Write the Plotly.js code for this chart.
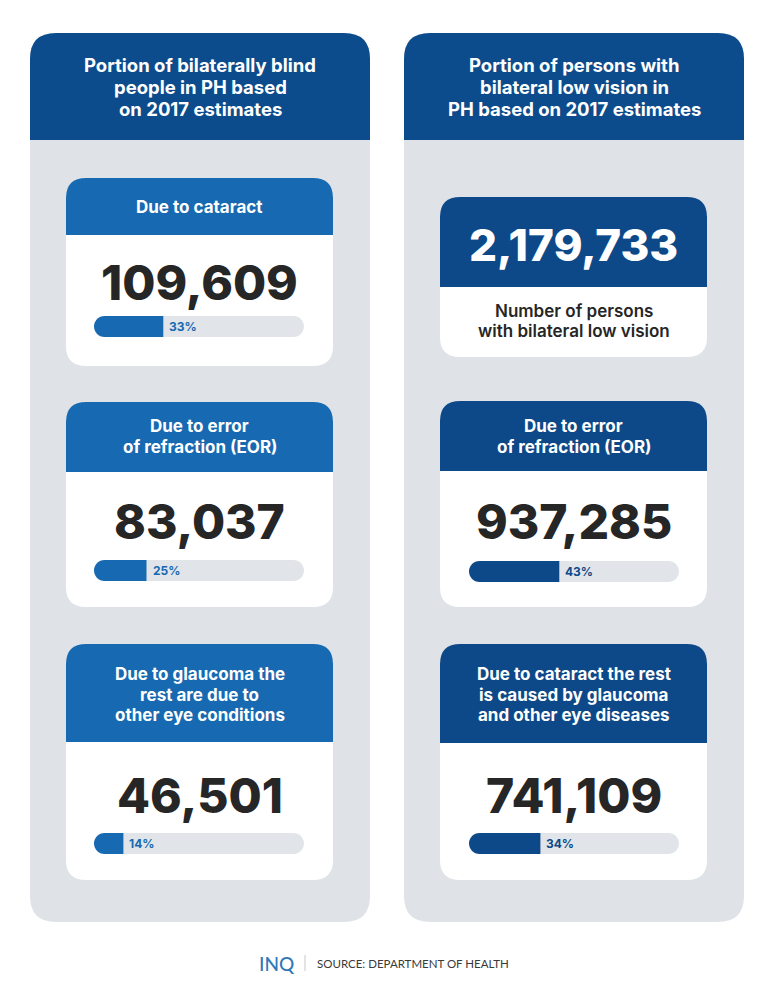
<!DOCTYPE html>
<html><head><meta charset="utf-8">
<script src="https://cdn.plot.ly/plotly-3.0.1.min.js"></script>
<style>html,body{margin:0;padding:0;background:#fff;}#chart{width:768px;height:997px;}</style>
</head><body><div id="chart"></div>
<script>
// ---- data ----
const leftTitle = ["Portion of bilaterally blind", "people in PH based", "on 2017 estimates"];
const rightTitle = ["Portion of persons with", "bilateral low vision in", "PH based on 2017 estimates"];
const leftLabels = [["Due to cataract"], ["Due to error", "of refraction (EOR)"], ["Due to glaucoma the", "rest are due to", "other eye conditions"]];
const leftValues = [109609, 83037, 46501];
const leftPct = [33, 25, 14];
const rightTotalLabel = ["Number of persons", "with bilateral low vision"];
const rightTotal = 2179733;
const rightLabels = [["Due to error", "of refraction (EOR)"], ["Due to cataract the rest", "is caused by glaucoma", "and other eye diseases"]];
const rightValues = [937285, 741109];
const rightPct = [43, 34];
const sourceText = "SOURCE: DEPARTMENT OF HEALTH";

// ---- styling ----
const W = 768, H = 997;
const C = {panel:'#dfe3e8', panelHead:'#0c4c8c', leftHead:'#1769b1', rightHead:'#0d4988', track:'#e1e5ea', num:'#262626'};
const FONT = 'Inter, "Noto Sans", sans-serif';
const px = x => x / W, py = y => 1 - y / H;
const fmt = v => v.toLocaleString('en-US');

function rrect(x0, y0, x1, y1, r, topOnly) {
  const rx = r / W, ry = r / H;
  const X0 = px(x0), X1 = px(x1), Y0 = py(y0), Y1 = py(y1);
  let p = `M${X0},${Y0 - ry} Q${X0},${Y0} ${X0 + rx},${Y0} L${X1 - rx},${Y0} Q${X1},${Y0} ${X1},${Y0 - ry}`;
  if (topOnly) p += ` L${X1},${Y1} L${X0},${Y1} Z`;
  else p += ` L${X1},${Y1 + ry} Q${X1},${Y1} ${X1 - rx},${Y1} L${X0 + rx},${Y1} Q${X0},${Y1} ${X0},${Y1 + ry} Z`;
  return p;
}
const shapes = [];
function addPath(path, color, layer) {
  shapes.push({type:'path', xref:'paper', yref:'paper', path, fillcolor:color, line:{width:0}, layer:layer || 'below'});
}
const annotations = [];
function addLines(lines, x, yFirst, spacing, size, color, weight) {
  lines.forEach((t, k) => annotations.push({text:t, xref:'paper', yref:'paper', x:px(x), y:py(yFirst + k * spacing),
    xanchor:'center', yanchor:'middle', showarrow:false, font:{size, color, weight, family:FONT}}));
}
// white masks that round off the ends of a bar (pixel geometry of the card)
function capMask(xEdge, yt, yb, dir) {
  const r = (yb - yt) / 2, k = 0.5523 * r;
  const xi = xEdge + dir * r;
  const P = (x, y) => `${px(x)},${py(y)}`;
  addPath(`M${P(xEdge, yt)} L${P(xi, yt)} C${P(xi - dir * k, yt)} ${P(xEdge, yt + r - k)} ${P(xEdge, yt + r)} Z`, '#fff', 'above');
  addPath(`M${P(xEdge, yb)} L${P(xi, yb)} C${P(xi - dir * k, yb)} ${P(xEdge, yb - r + k)} ${P(xEdge, yb - r)} Z`, '#fff', 'above');
}

// panels
[[30, 370], [404, 744]].forEach(([a, b]) => {
  addPath(rrect(a, 33, b, 922, 26, false), C.panel);
  addPath(rrect(a, 33, b, 140, 26, true), C.panelHead);
});
addLines(leftTitle, 200, 65, 22, 18.5, '#fff', 700);
addLines(rightTitle, 574, 65, 22, 18.5, '#fff', 700);

// card geometry
const leftCards = [[178, 235, 366], [402, 472, 607], [644, 742, 880]];
const leftHeadY = [207, 426, 674];
const leftNumY = [282, 521, 795];
const leftBarY = [[316, 337], [560, 581], [833, 854]];
const rightCards = [[401, 471, 607], [644, 743, 880]];
const rightHeadY = [426, 674];
const rightNumY = [521, 795];
const rightBarY = [[561, 582], [833, 854]];

leftCards.forEach(([t, h, b], i) => {
  addPath(rrect(66, t, 333, b, 20, false), '#fff');
  addPath(rrect(66, t, 333, h, 20, true), C.leftHead);
  addLines(leftLabels[i], 199.5, leftHeadY[i], 20.5, 17, '#fff', 700);
  addLines([fmt(leftValues[i])], 199.5, leftNumY[i], 0, 48, C.num, 800);
});
addPath(rrect(440, 197, 707, 357, 20, false), '#fff');
addPath(rrect(440, 197, 707, 287, 20, true), C.rightHead);
addLines([fmt(rightTotal)], 573.5, 245, 0, 44, '#fff', 800);
addLines(rightTotalLabel, 573.5, 311, 19.5, 17, C.num, 600);
rightCards.forEach(([t, h, b], i) => {
  addPath(rrect(440, t, 707, b, 20, false), '#fff');
  addPath(rrect(440, t, 707, h, 20, true), C.rightHead);
  addLines(rightLabels[i], 573.5, rightHeadY[i], 20.5, 17, '#fff', 700);
  addLines([fmt(rightValues[i])], 573.5, rightNumY[i], 0, 48, C.num, 800);
});

// progress bars: one small subplot per bar
const bars = [];
leftPct.forEach((p, i) => bars.push({pct:p, x:[94, 304], y:leftBarY[i], color:C.leftHead}));
rightPct.forEach((p, i) => bars.push({pct:p, x:[469, 679], y:rightBarY[i], color:C.rightHead}));

const traces = [];
const layout = {
  width:W, height:H, margin:{l:0, r:0, t:0, b:0}, paper_bgcolor:'#fff', plot_bgcolor:'rgba(0,0,0,0)',
  showlegend:false, barmode:'overlay', shapes, annotations, hovermode:false
};
bars.forEach((b, i) => {
  const n = i === 0 ? '' : String(i + 1);
  const xa = 'x' + n, ya = 'y' + n;
  layout['xaxis' + n] = {domain:[px(b.x[0]), px(b.x[1])], range:[0, 100], visible:false, fixedrange:true, anchor:ya};
  layout['yaxis' + n] = {domain:[py(b.y[1]), py(b.y[0])], range:[-0.5, 0.5], visible:false, fixedrange:true, anchor:xa};
  const common = {type:'bar', orientation:'h', y:[0], width:1, xaxis:xa, yaxis:ya, hoverinfo:'skip', marker:{line:{width:0}}};
  traces.push(Object.assign({}, common, {x:[100], marker:{color:C.track, line:{width:0}}}));
  traces.push(Object.assign({}, common, {x:[b.pct], marker:{color:b.color, line:{width:0}}}));
  capMask(b.x[0], b.y[0], b.y[1], 1);
  capMask(b.x[1], b.y[0], b.y[1], -1);
  annotations.push({text:b.pct + '%', xref:xa, yref:ya, x:b.pct, y:0, xanchor:'left', yanchor:'middle', xshift:4,
    showarrow:false, font:{size:12, color:b.color, weight:700, family:FONT}});
});

// footer
annotations.push({text:'INQ', xref:'paper', yref:'paper', x:px(257), y:py(963), xanchor:'left', yanchor:'middle', showarrow:false,
  font:{size:19, color:'#2f79b8', weight:500, family:'Lato, "Noto Sans", sans-serif'}});
shapes.push({type:'line', xref:'paper', yref:'paper', x0:px(305), x1:px(305), y0:py(955), y1:py(971), line:{color:'#c8c8c8', width:1}});
annotations.push({text:sourceText, xref:'paper', yref:'paper', x:px(315), y:py(963), xanchor:'left', yanchor:'middle', showarrow:false,
  font:{size:11.5, color:'#3a3a3a', weight:400, family:'Lato, "Noto Sans", sans-serif'}});

Plotly.newPlot('chart', traces, layout, {displayModeBar:false, staticPlot:true});
</script></body></html>
